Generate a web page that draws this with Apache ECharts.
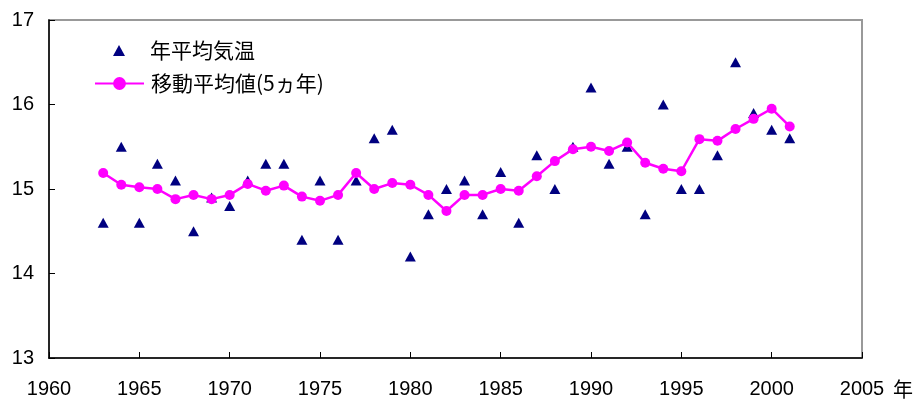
<!DOCTYPE html>
<html><head><meta charset="utf-8">
<script src="https://cdn.jsdelivr.net/npm/echarts@6/dist/echarts.min.js"></script>
<style>html,body{margin:0;padding:0;background:#fff}#c{width:916px;height:401px}</style>
</head><body><div id="c"></div>
<script>
var years = [1963,1964,1965,1966,1967,1968,1969,1970,1971,1972,1973,1974,1975,1976,1977,1978,1979,1980,1981,1982,1983,1984,1985,1986,1987,1988,1989,1990,1991,1992,1993,1994,1995,1996,1997,1998,1999,2000,2001];
var annualTemp = [14.6,15.5,14.6,15.3,15.1,14.5,14.9,14.8,15.1,15.3,15.3,14.4,15.1,14.4,15.1,15.6,15.7,14.2,14.7,15.0,15.1,14.7,15.2,14.6,15.4,15.0,15.5,16.2,15.3,15.5,14.7,16.0,15.0,15.0,15.4,16.5,15.9,15.7,15.6];
var movingAvg = [15.19,15.05,15.02,15.0,14.88,14.93,14.88,14.93,15.06,14.98,15.04,14.91,14.86,14.93,15.19,15.0,15.07,15.05,14.93,14.74,14.93,14.93,15.0,14.98,15.15,15.33,15.47,15.5,15.45,15.55,15.31,15.24,15.21,15.59,15.57,15.71,15.83,15.95,15.74];
var seriesNames = ['年平均気温','移動平均値(5ヵ年)'];
var xAxisName = '年';

function pairs(v){ return years.map(function(y,i){ return [y, v[i]]; }); }
var font = 'Liberation Sans, Arial, sans-serif';
var cjk = 'Noto Sans CJK JP, sans-serif';
var chart = echarts.init(document.getElementById('c'));
chart.setOption({
  animation: false,
  backgroundColor: '#fff',
  textStyle: {fontFamily: font},
  grid: {left: 49, right: 53, top: 20, bottom: 43, show: true, borderColor: '#999', borderWidth: 2, backgroundColor: 'transparent'},
  legend: [
    {orient: 'vertical', left: 113, top: 40, padding: 0, itemWidth: 12, itemHeight: 11,
     textStyle: {fontSize: 21, color: '#000', fontFamily: cjk, padding: [0,0,0,20]},
     data: [{name: seriesNames[0], icon: 'triangle'}]},
    {orient: 'vertical', left: 94, top: 73, padding: 0, itemWidth: 49, itemHeight: 16,
     textStyle: {fontSize: 21, color: '#000', fontFamily: cjk, padding: [0,0,0,2]},
     data: [{name: seriesNames[1]}]}
  ],
  xAxis: {
    type: 'value', min: 1960, max: 2005, interval: 5,
    name: xAxisName, nameLocation: 'end', nameGap: 31,
    nameTextStyle: {fontSize: 20, color: '#000', verticalAlign: 'top', padding: [21,0,0,0], fontFamily: cjk},
    axisLine: {show: true, lineStyle: {color: '#000', width: 1.5}},
    axisTick: {show: true, inside: true, length: 6, lineStyle: {color: '#000'}},
    axisLabel: {fontSize: 20, color: '#000', margin: 21, fontFamily: font, formatter: function(v){ return String(v); }},
    splitLine: {show: false}
  },
  yAxis: {
    type: 'value', min: 13, max: 17, interval: 1,
    axisLine: {show: true, lineStyle: {color: '#000', width: 1.5}},
    axisTick: {show: true, inside: true, length: 6, lineStyle: {color: '#000'}},
    axisLabel: {fontSize: 20, color: '#000', margin: 15, fontFamily: font},
    splitLine: {show: false}
  },
  series: [
    {name: seriesNames[0], type: 'scatter', data: pairs(annualTemp), symbol: 'triangle', symbolSize: [11,10],
     itemStyle: {color: '#000080', opacity: 1}, z: 2},
    {name: seriesNames[1], type: 'line', data: pairs(movingAvg), symbol: 'circle', symbolSize: 10, showSymbol: true,
     lineStyle: {color: '#ff00ff', width: 2.5}, itemStyle: {color: '#ff00ff', opacity: 1}, z: 3}
  ]
});
</script></body></html>
